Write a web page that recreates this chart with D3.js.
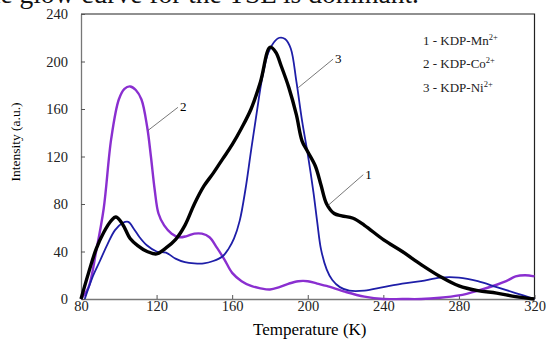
<!DOCTYPE html>
<html>
<head>
<meta charset="utf-8">
<script src="https://cdn.jsdelivr.net/npm/d3@7"></script>
<style>
  body { margin: 0; background: #fff; }
  svg { display: block; font-family: "Liberation Serif", "Times New Roman", serif; }
</style>
</head>
<body>
<div id="chart"></div>
<script>
// temperature (K) / intensity (a.u.)
const mnT = [80, 84, 88, 92, 96, 98.5, 102, 106, 110, 115, 120, 125, 130, 135, 140, 145, 150, 155, 160, 165, 170, 175, 180, 183, 186, 190, 194, 197, 200, 204, 207, 210, 214, 218, 224, 230, 240, 250, 260, 270, 280, 290, 300, 310, 320];
const mnI = [0, 22, 42, 56, 66, 69, 63, 51, 45, 40, 38, 43, 50, 62, 80, 95, 106, 118, 130, 144, 160, 183, 212, 208, 196, 178, 155, 133, 124, 112, 96, 80, 72, 70, 68, 62, 50, 40, 29, 19, 11, 7, 5, 2, 0];

const coT = [80, 84, 88, 92, 96, 100, 103, 106, 109, 112, 115, 117, 119, 121, 124, 128, 132, 136, 140, 144, 148, 152, 156, 160, 165, 170, 175, 180, 185, 190, 195, 200, 205, 210, 220, 230, 240, 250, 260, 270, 280, 290, 300, 305, 310, 315, 320];
const coI = [0, 10, 40, 76, 135, 168, 177, 179, 176, 168, 145, 120, 92, 72, 62, 55, 52, 53, 55, 55, 52, 43, 33, 22, 15, 11, 9, 8, 10, 13, 15, 15, 13, 11, 6, 2, 0, 0, 0, 1, 3, 7, 12, 15, 19, 20, 19];

const niT = [82, 86, 90, 94, 98, 102, 105, 108, 111, 115, 120, 125, 130, 135, 140, 145, 150, 155, 158, 161, 164, 167, 170, 173, 176, 179, 182, 185, 188, 191, 194, 197, 200, 203, 205, 207, 210, 213, 217, 222, 230, 240, 250, 260, 270, 280, 290, 300, 310, 320];
const niI = [0, 18, 32, 46, 58, 64, 65, 59, 52, 45, 40, 39, 34, 31, 30, 30, 32, 36, 42, 51, 66, 92, 125, 157, 187, 207, 216, 220, 219, 211, 183, 150, 122, 90, 65, 42, 25, 16, 10, 7, 7, 10, 13, 15, 18, 18, 15, 10, 5, 0];

const xTicks = [80, 120, 160, 200, 240, 280, 320];
const yTicks = [0, 40, 80, 120, 160, 200, 240];

const legendLabels = ["1 - KDP-Mn", "2 - KDP-Co", "3 - KDP-Ni"];

// numbered callouts: [from T, from I, to T, to I]
const callouts = [
  { label: "1", seg: [210.9, 79, 229.4, 104.7] },
  { label: "2", seg: [115.5, 142, 131.3, 161.4] },
  { label: "3", seg: [195, 178, 213.4, 202] }
];

const width = 546, height = 339;
const mLeft = 81, mRight = 534.5, mTop = 14, mBottom = 299;

const svg = d3.select("#chart").append("svg")
  .attr("width", width)
  .attr("height", height);

// clipped line of body text above the figure
svg.append("text")
  .attr("x", -21).attr("y", 3)
  .attr("font-size", 27.5)
  .attr("fill", "#111")
  .text("the glow curve for the TSL is dominant.");

const x = d3.scaleLinear().domain([80, 320]).range([mLeft, mRight]);
const y = d3.scaleLinear().domain([0, 240]).range([mBottom, mTop]);

// frame top / right
svg.append("path")
  .attr("d", `M${mLeft},${mTop}H${mRight}V${mBottom}`)
  .attr("fill", "none")
  .attr("stroke", "#222")
  .attr("stroke-width", 1.2);

const xAxis = svg.append("g")
  .attr("transform", `translate(0,${mBottom})`)
  .call(d3.axisBottom(x).tickValues(xTicks).tickSizeInner(-4).tickSizeOuter(0).tickPadding(2));

const yAxis = svg.append("g")
  .attr("transform", `translate(${mLeft},0)`)
  .call(d3.axisLeft(y).tickValues(yTicks).tickSizeInner(-4).tickSizeOuter(0).tickPadding(13));

[xAxis, yAxis].forEach(g => {
  g.attr("font-family", null).attr("font-size", 14.5);
  g.select(".domain").attr("stroke", "#777").attr("stroke-width", 1.3);
  g.selectAll(".tick line").attr("stroke", "#555");
  g.selectAll(".tick text").attr("fill", "#222");
});

svg.append("text")
  .attr("x", (mLeft + mRight) / 2 + 2).attr("y", 335)
  .attr("text-anchor", "middle")
  .attr("font-size", 17)
  .text("Temperature (K)");

svg.append("text")
  .attr("transform", "translate(20,142) rotate(-90)")
  .attr("text-anchor", "middle")
  .attr("font-size", 13.5)
  .text("Intensity (a.u.)");

const line = d3.line()
  .x(d => x(d[0]))
  .y(d => y(d[1]))
  .curve(d3.curveCatmullRom.alpha(0.5));

const series = [
  { t: coT, v: coI, color: "#8a2fd0", w: 2.4 },
  { t: niT, v: niI, color: "#1e1ea8", w: 1.8 },
  { t: mnT, v: mnI, color: "#000", w: 3.4 }
];

svg.append("g").selectAll("path")
  .data(series)
  .join("path")
  .attr("fill", "none")
  .attr("stroke", d => d.color)
  .attr("stroke-width", d => d.w)
  .attr("stroke-linejoin", "round")
  .attr("d", d => line(d.t.map((t, i) => [t, d.v[i]])));

// callout leaders and numbers
const co = svg.append("g");
co.selectAll("line")
  .data(callouts)
  .join("line")
  .attr("x1", d => x(d.seg[0])).attr("y1", d => y(d.seg[1]))
  .attr("x2", d => x(d.seg[2])).attr("y2", d => y(d.seg[3]))
  .attr("stroke", "#555")
  .attr("stroke-width", 0.8);
co.selectAll("text")
  .data(callouts)
  .join("text")
  .attr("x", d => x(d.seg[2]) + 2)
  .attr("y", d => y(d.seg[3]) + 4)
  .attr("font-size", 13)
  .text(d => d.label);

// legend text
const lg = svg.append("g").attr("font-size", 13).attr("fill", "#222");
legendLabels.forEach((s, i) => {
  const t = lg.append("text")
    .attr("x", 423)
    .attr("y", 45 + i * 23.3);
  t.append("tspan").text(s);
  t.append("tspan")
    .attr("dy", -5)
    .attr("font-size", 8.5)
    .text("2+");
});
</script>
</body>
</html>
